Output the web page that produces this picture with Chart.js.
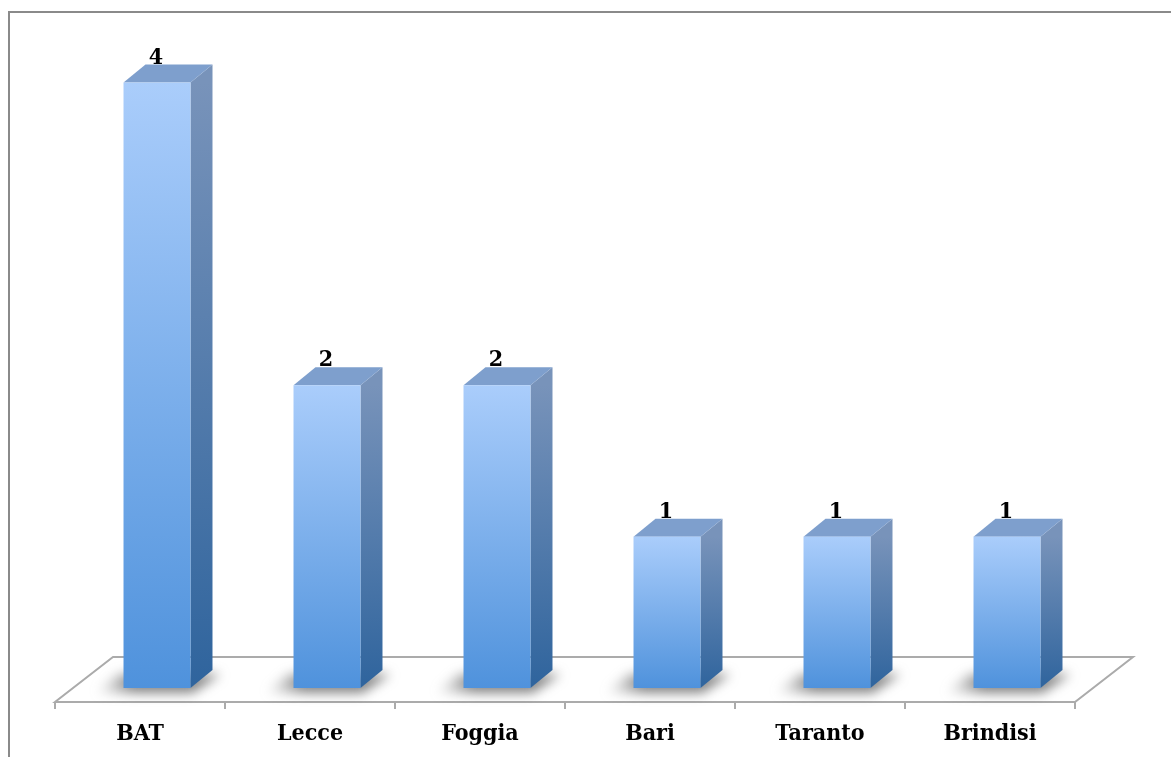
<!DOCTYPE html>
<html>
<head>
<meta charset="utf-8">
<script src="https://cdn.jsdelivr.net/npm/chart.js@4"></script>
<style>
  body { margin: 0; background: #ffffff; }
  #wrap { width: 1171px; height: 757px; position: relative; }
</style>
</head>
<body>
<div id="wrap"><canvas id="chart"></canvas></div>
<script>
const categories = ["BAT", "Lecce", "Foggia", "Bari", "Taranto", "Brindisi"];
const counts = [4, 2, 2, 1, 1, 1];
const yMax = 4.4;

const labelFont = "'DejaVu Serif Condensed', 'DejaVu Serif', 'Liberation Serif', serif";

// 3d look: bars stand a bit behind the front floor edge
const BAR_SHIFT_X = 17;
const BAR_SHIFT_Y = 14;
const DEPTH_X = 22;
const DEPTH_Y = 18;
const FLOOR_X = 58;
const FLOOR_Y = 45;

const frame3d = {
  id: "frame3d",
  beforeDatasetsDraw(chart) {
    const { ctx } = chart;
    const x = chart.scales.x;
    const y0 = chart.scales.y.getPixelForValue(0);
    ctx.save();

    // outer frame (only top and left are in view)
    ctx.strokeStyle = "#8a8a8a";
    ctx.lineWidth = 2;
    ctx.beginPath();
    ctx.moveTo(9, 900);
    ctx.lineTo(9, 12);
    ctx.lineTo(1300, 12);
    ctx.stroke();

    // floor
    ctx.strokeStyle = "#ababab";
    ctx.lineWidth = 2;
    ctx.beginPath();
    ctx.moveTo(x.left, y0);
    ctx.lineTo(x.right, y0);
    ctx.lineTo(x.right + FLOOR_X, y0 - FLOOR_Y);
    ctx.lineTo(x.left + FLOOR_X, y0 - FLOOR_Y);
    ctx.closePath();
    ctx.stroke();

    // ticks between categories
    const step = (x.right - x.left) / categories.length;
    ctx.beginPath();
    for (let i = 0; i <= categories.length; i++) {
      const tx = x.left + i * step;
      ctx.moveTo(tx, y0);
      ctx.lineTo(tx, y0 + 7);
    }
    ctx.stroke();

    // soft shadows under the bars
    const meta = chart.getDatasetMeta(0);
    ctx.filter = "blur(6px)";
    meta.data.forEach((el) => {
      const left = el.x - el.width / 2 + BAR_SHIFT_X;
      const right = left + el.width;
      const b = el.base - BAR_SHIFT_Y;
      const g = ctx.createLinearGradient(left - 28, 0, left + 10, 0);
      g.addColorStop(0, "rgba(120,120,120,0)");
      g.addColorStop(1, "rgba(90,90,90,0.75)");
      ctx.fillStyle = g;
      ctx.beginPath();
      ctx.moveTo(left - 30, b + 5);
      ctx.lineTo(right + 2, b + 5);
      ctx.lineTo(right + DEPTH_X + 8, b - DEPTH_Y + 4);
      ctx.lineTo(left - 4, b - 14);
      ctx.closePath();
      ctx.fill();
    });
    ctx.restore();
  },
  afterDatasetsDraw(chart) {
    const { ctx } = chart;
    const meta = chart.getDatasetMeta(0);
    ctx.save();
    meta.data.forEach((el, i) => {
      const left = el.x - el.width / 2 + BAR_SHIFT_X;
      const right = left + el.width;
      const top = el.y - BAR_SHIFT_Y;
      const bottom = el.base - BAR_SHIFT_Y;

      // side face
      const side = ctx.createLinearGradient(0, top, 0, bottom);
      side.addColorStop(0, "#7893ba");
      side.addColorStop(1, "#2f649d");
      ctx.fillStyle = side;
      ctx.beginPath();
      ctx.moveTo(right, top);
      ctx.lineTo(right + DEPTH_X, top - DEPTH_Y);
      ctx.lineTo(right + DEPTH_X, bottom - DEPTH_Y);
      ctx.lineTo(right, bottom);
      ctx.closePath();
      ctx.fill();

      // top face
      ctx.fillStyle = "#7e9fcd";
      ctx.beginPath();
      ctx.moveTo(left, top);
      ctx.lineTo(left + DEPTH_X, top - DEPTH_Y);
      ctx.lineTo(right + DEPTH_X, top - DEPTH_Y);
      ctx.lineTo(right, top);
      ctx.closePath();
      ctx.fill();

      // front face
      const front = ctx.createLinearGradient(0, top, 0, bottom);
      front.addColorStop(0, "#aacdfb");
      front.addColorStop(1, "#4f92dc");
      ctx.fillStyle = front;
      ctx.fillRect(left, top, right - left, bottom - top);

      // value label
      ctx.fillStyle = "#000000";
      ctx.font = "bold 23px " + labelFont;
      ctx.textAlign = "center";
      ctx.textBaseline = "alphabetic";
      ctx.fillText(String(counts[i]), (left + right) / 2 - 1, top - DEPTH_Y - 1);
    });
    ctx.restore();
  }
};

const ctx = document.getElementById("chart").getContext("2d");
new Chart(ctx, {
  type: "bar",
  data: {
    labels: categories,
    datasets: [
      {
        data: counts,
        backgroundColor: "rgba(0,0,0,0)",
        borderWidth: 0,
        categoryPercentage: 1,
        barPercentage: 0.394,
      },
    ],
  },
  options: {
    responsive: true,
    maintainAspectRatio: false,
    animation: false,
    layout: {
      padding: { left: 55, right: 96, top: 36, bottom: 0 },
    },
    scales: {
      x: {
        grid: { display: false, drawTicks: false },
        border: { display: false },
        ticks: {
          color: "#000000",
          padding: 18,
          font: { family: labelFont, size: 23, weight: "bold" },
        },
        afterFit: (scale) => {
          scale.height = 55;
        },
      },
      y: {
        display: false,
        min: 0,
        max: yMax,
      },
    },
    plugins: {
      legend: { display: false },
      tooltip: { enabled: false },
    },
  },
  plugins: [frame3d],
});
</script>
</body>
</html>
